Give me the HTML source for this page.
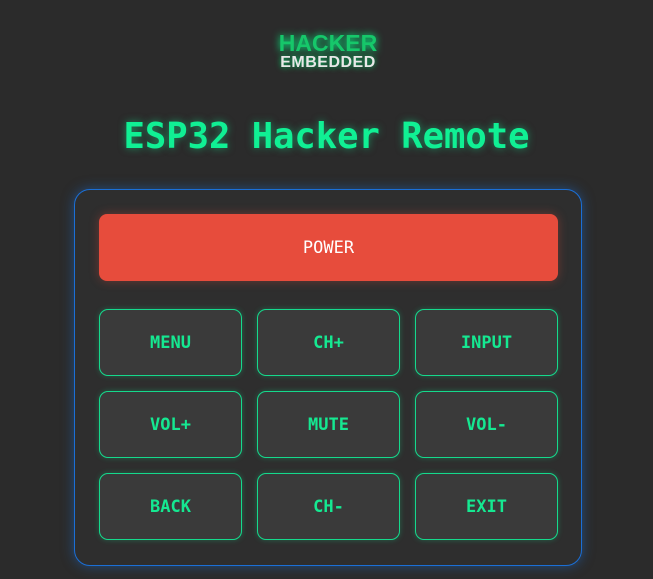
<!DOCTYPE html>
<html><head><style>
body{margin:0;width:653px;height:579px;background:#2b2b2b;overflow:hidden;font-family:"DejaVu Sans Mono","Liberation Mono",monospace;position:relative}
.logo{position:absolute;left:264px;top:32px;width:128px;text-align:center;font-family:"Liberation Sans",sans-serif;font-weight:bold;line-height:1}
.logo .la{color:#16c76a;font-size:23px;text-shadow:0 0 8px #0f8;}
.logo .lb{color:#e8e8e8;font-size:16px;letter-spacing:0.5px;margin-top:0px;text-shadow:0 0 6px #0c6}
h1{position:absolute;top:116px;left:0;width:653px;margin:0;text-align:center;font-size:35.5px;line-height:42px;color:#10f094;font-weight:bold;text-shadow:0 0 8px rgba(16,240,148,.5)}
.panel{position:absolute;left:74px;top:189px;width:506px;height:375px;border:1.5px solid #1b6fd6;border-radius:16px;background:#2e2e2e;box-shadow:0 0 12px rgba(27,111,214,.5)}
.power{position:absolute;left:99px;top:214px;width:459px;height:67px;background:#e74c3c;border-radius:8px;color:#fff;font-size:17px;display:flex;align-items:center;justify-content:center;box-shadow:0 0 10px rgba(231,76,60,.35)}
.k{position:absolute;width:143px;height:67px;box-sizing:border-box;border:1.5px solid #15d98c;border-radius:9px;background:#3a3a3a;color:#15e891;font-size:17px;font-weight:bold;display:flex;align-items:center;justify-content:center;box-shadow:0 0 6px rgba(21,217,140,.3)}
</style></head><body>
<div class="logo"><div class="la">HACKER</div><div class="lb">EMBEDDED</div></div>
<h1>ESP32 Hacker Remote</h1>
<div class="panel"></div>
<div class="power">POWER</div>
<div class="k" style="left:99px;top:309px">MENU</div>
<div class="k" style="left:257px;top:309px">CH+</div>
<div class="k" style="left:415px;top:309px">INPUT</div>
<div class="k" style="left:99px;top:391px">VOL+</div>
<div class="k" style="left:257px;top:391px">MUTE</div>
<div class="k" style="left:415px;top:391px">VOL-</div>
<div class="k" style="left:99px;top:473px">BACK</div>
<div class="k" style="left:257px;top:473px">CH-</div>
<div class="k" style="left:415px;top:473px">EXIT</div>
</body></html>
